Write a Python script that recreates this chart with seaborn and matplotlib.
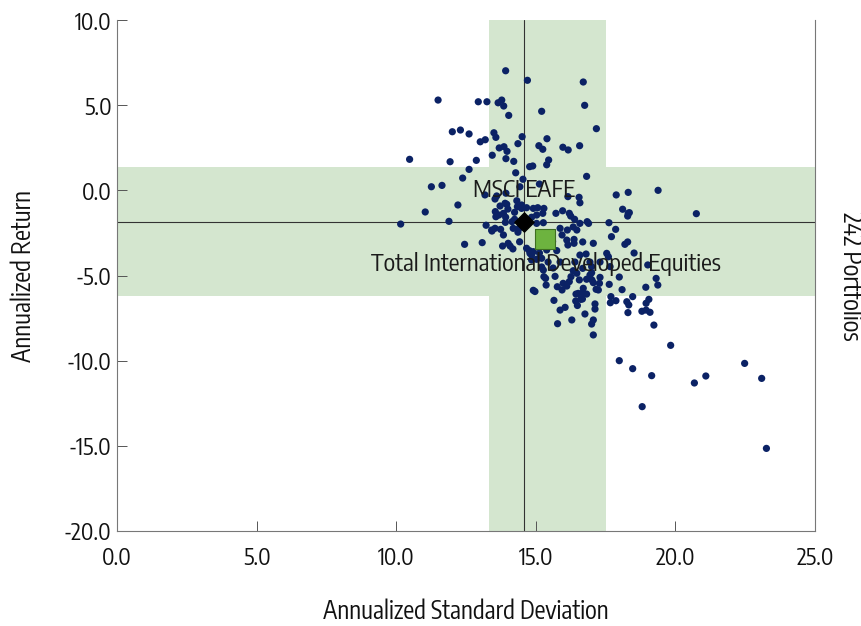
import matplotlib
matplotlib.use("Agg")
import matplotlib.pyplot as plt
from matplotlib import font_manager
import seaborn as sns
import pandas as pd

# ---------------- data ----------------
port_sd = [
    13.92, 11.50, 12.94, 13.25, 13.65, 13.78, 13.85, 14.03, 12.01, 12.30,
    12.61, 13.50, 13.57, 13.01, 13.19, 13.69, 13.86, 13.97, 13.44, 13.93,
    10.48, 11.93, 12.87, 12.61, 12.38, 11.26, 11.64, 14.70, 16.70, 16.75,
    15.21, 17.17, 14.51, 15.40, 14.36, 15.11, 15.25, 15.97, 16.16, 16.57,
    14.21, 15.46, 15.39, 14.78, 14.89, 14.28, 16.82, 14.54, 14.43, 15.13,
    12.21, 11.04, 10.16, 11.89, 13.22, 13.43, 13.74, 13.84, 12.45, 13.08,
    13.81, 13.54, 13.96, 14.00, 14.32, 14.34, 13.55, 13.68, 13.57, 13.84,
    13.92, 14.24, 14.15, 14.24, 13.91, 14.40, 14.36, 14.42, 14.08, 14.18,
    14.67, 14.77, 14.85, 14.67, 14.91, 15.07, 14.85, 15.03, 15.25, 15.29,
    15.03, 15.27, 15.72, 15.96, 16.20, 16.25, 16.39, 16.58, 16.84, 16.89,
    16.55, 16.58, 16.15, 15.87, 16.13, 15.94, 16.11, 16.37, 16.15, 16.37,
    15.75, 17.62, 17.88, 18.11, 17.86, 17.54, 18.31, 19.38, 18.31, 18.35,
    18.29, 20.75, 16.68, 18.19, 18.29, 17.60, 18.52, 19.01, 19.31, 19.37,
    18.94, 17.99, 17.63, 18.09, 17.00, 17.06, 16.82, 17.16, 17.24, 16.68,
    16.82, 17.69, 17.87, 17.67, 18.47, 19.05, 18.26, 18.33, 18.95, 17.12,
    17.12, 16.67, 16.76, 18.30, 18.80, 18.95, 19.09, 17.06, 17.00, 19.23,
    17.06, 19.83, 17.99, 18.47, 19.15, 22.48, 21.09, 20.68, 23.09, 18.81,
    23.26, 14.79, 14.91, 15.21, 15.27, 15.29, 15.37, 14.91, 14.97, 15.69,
    15.98, 16.20, 16.11, 16.56, 16.34, 16.47, 16.68, 16.58, 16.80, 17.00,
    16.94, 17.30, 17.28, 15.65, 16.44, 16.52, 16.61, 16.43, 16.49, 16.05,
    15.87, 16.29, 15.78, 15.77, 15.94, 16.26, 16.70, 17.01, 13.18, 13.60,
    13.72, 13.90, 14.49, 14.49, 13.42, 13.54, 14.19, 14.01, 15.13, 16.34,
    16.47, 14.85, 15.03, 15.35, 15.39, 17.06, 17.71, 17.66, 15.44, 15.62,
    15.87, 16.40, 16.94, 17.30, 13.93, 15.21, 15.50, 15.60,
]
port_ret = [
    7.02, 5.30, 5.20, 5.20, 5.14, 5.30, 4.95, 4.40, 3.44, 3.54,
    3.31, 3.38, 3.11, 2.85, 2.97, 2.49, 2.56, 2.29, 2.06, 1.86,
    1.82, 1.68, 1.76, 1.23, 0.72, 0.21, 0.29, 6.46, 6.36, 4.99,
    4.64, 3.62, 3.15, 3.03, 2.74, 2.62, 2.41, 2.53, 2.37, 2.62,
    1.70, 1.78, 1.50, 1.39, 1.43, 1.03, 0.82, 0.65, 0.21, 0.37,
    -0.86, -1.27, -1.98, -1.82, -2.05, -2.39, -2.29, -2.62, -3.17, -3.07,
    -3.27, -0.51, -0.82, -1.10, -0.61, -0.96, -1.25, -1.45, -1.55, -1.35,
    -1.58, -1.29, -1.84, -1.70, -1.88, -2.23, -2.46, -3.02, -3.27, -3.44,
    -3.40, -3.54, -3.80, -1.02, -1.06, -1.02, -1.58, -1.45, -1.35, -1.06,
    -1.94, -1.90, -1.35, -1.20, -1.35, -1.51, -1.70, -1.94, -1.84, -1.94,
    -0.41, -0.73, -0.37, -2.23, -2.33, -2.62, -2.92, -2.88, -3.21, -3.11,
    -3.54, -1.90, -0.27, -1.11, -2.29, -3.70, -0.12, 0.00, -1.35, -1.31,
    -1.51, -1.37, -3.03, -3.17, -3.03, -3.90, -3.68, -4.38, -5.17, -5.56,
    -5.69, -5.09, -5.52, -5.83, -4.84, -5.42, -5.22, -5.81, -5.85, -6.01,
    -6.09, -6.24, -6.48, -6.60, -6.24, -6.40, -6.54, -6.73, -6.63, -6.67,
    -6.97, -6.38, -7.26, -7.18, -7.10, -7.03, -7.16, -7.61, -7.85, -7.91,
    -8.49, -9.10, -10.00, -10.47, -10.88, -10.16, -10.90, -11.31, -11.04, -12.70,
    -15.15, -3.70, -3.60, -3.99, -4.68, -5.07, -5.56, -5.87, -5.94, -5.05,
    -5.46, -5.36, -5.62, -5.26, -4.72, -4.87, -4.58, -3.80, -3.74, -4.48,
    -4.97, -5.11, -5.46, -6.46, -6.09, -6.05, -6.40, -6.50, -6.76, -6.87,
    -7.03, -7.61, -7.83, -5.66, -5.85, -5.07, -5.75, -5.26, -0.27, -0.33,
    -0.92, -0.76, -0.86, -1.06, -2.33, -2.23, -2.23, -3.11, -3.68, -2.15,
    -2.33, -4.09, -4.05, -5.17, -3.50, -3.11, -2.72, -4.48, -4.21, -4.56,
    -4.21, -4.21, -4.21, -4.21, -0.17, -4.50, -2.60, -3.00,
]

bench_name = "MSCI EAFE"
bench_sd = 14.58
bench_ret = -1.86

fund_name = "Total International Developed Equities"
fund_sd = 15.33
fund_ret = -2.86

band_sd = (13.32, 17.51)
band_ret = (-6.20, 1.37)

x_ticks = [0, 5, 10, 15, 20, 25]
y_ticks = [-20, -15, -10, -5, 0, 5, 10]
n_label = "242 Portfolios"

# ---------------- fonts ----------------
sns.set_style("ticks")
narrow = None
for f in font_manager.fontManager.ttflist:
    nm = f.name.lower()
    if ("narrow" in nm or "condensed" in nm) and "sans" in nm and f.style == "normal" \
            and f.weight in (400, "normal", "regular"):
        narrow = f.name
        break
if narrow is None:
    for f in font_manager.fontManager.ttflist:
        if f.stretch in ("condensed", "semi-condensed") and "sans" in f.name.lower() \
                and f.style == "normal" and f.weight in (400, "normal", "regular"):
            narrow = f.name
            break

if narrow is not None:
    fam = [narrow, "Liberation Sans", "DejaVu Sans"]
    k = 1.18
else:
    fam = ["Liberation Sans", "DejaVu Sans"]
    k = 1.0
plt.rcParams["font.family"] = fam

tick_fs = 14.0 * k
lab_fs = 14.9 * k
ann_fs = 14.8 * k

fig = plt.figure(figsize=(8.62, 6.26), dpi=100)
ax = fig.add_axes([117 / 862, 1 - 531 / 626, (815 - 117) / 862, (531 - 20) / 626])

band_col = "#d4e6cf"
ax.axvspan(*band_sd, color=band_col, lw=0, zorder=0)
ax.axhspan(*band_ret, color=band_col, lw=0, zorder=0)
ax.axvline(bench_sd, color="#333333", lw=0.8, zorder=1)
ax.axhline(bench_ret, color="#333333", lw=0.8, zorder=1)

df = pd.DataFrame({"sd": port_sd, "ret": port_ret})
sns.scatterplot(data=df, x="sd", y="ret", ax=ax, color="#0b2265", s=27,
                edgecolor="none", linewidth=0, zorder=3, legend=False)

ax.scatter([bench_sd], [bench_ret], marker="D", s=95, color="black",
           edgecolor="black", zorder=5)
ax.scatter([fund_sd], [fund_ret], marker="s", s=190, color="#6db33f",
           edgecolor="#3e6e22", linewidth=0.8, zorder=6)

ax.annotate(bench_name, (bench_sd, bench_ret), xytext=(0, 23),
            textcoords="offset points", ha="center", va="center",
            fontsize=ann_fs, color="#1a1a1a", zorder=7)
ax.annotate(fund_name, (fund_sd, fund_ret), xytext=(1, -18),
            textcoords="offset points", ha="center", va="center",
            fontsize=ann_fs, color="#1a1a1a", zorder=7)

ax.set_xlim(0, 25)
ax.set_ylim(-20, 10)
ax.set_xticks(x_ticks)
ax.set_yticks(y_ticks)
ax.set_xticklabels([f"{v:.1f}" for v in x_ticks])
ax.set_yticklabels([f"{v:.1f}" for v in y_ticks])
ax.tick_params(direction="in", length=7, width=0.7, color="#555555",
               labelsize=tick_fs, labelcolor="#111111")
ax.tick_params(axis="x", pad=11)
ax.tick_params(axis="y", pad=4)

for side in ["left", "bottom", "right"]:
    ax.spines[side].set_visible(True)
    ax.spines[side].set_color("#777777")
    ax.spines[side].set_linewidth(0.8)
ax.spines["top"].set_visible(False)

ax.set_xlabel("Annualized Standard Deviation", fontsize=lab_fs, color="#111111")
ax.set_ylabel("Annualized Return", fontsize=lab_fs, color="#111111")
ax.xaxis.set_label_coords(0.5, -0.132)
ax.yaxis.set_label_coords(-0.114, 0.5)

fig.text(850 / 862, 1 - 276 / 626, n_label, rotation=270, ha="center",
         va="center", fontsize=lab_fs, color="#111111")

fig.savefig("out.png", dpi=100)
